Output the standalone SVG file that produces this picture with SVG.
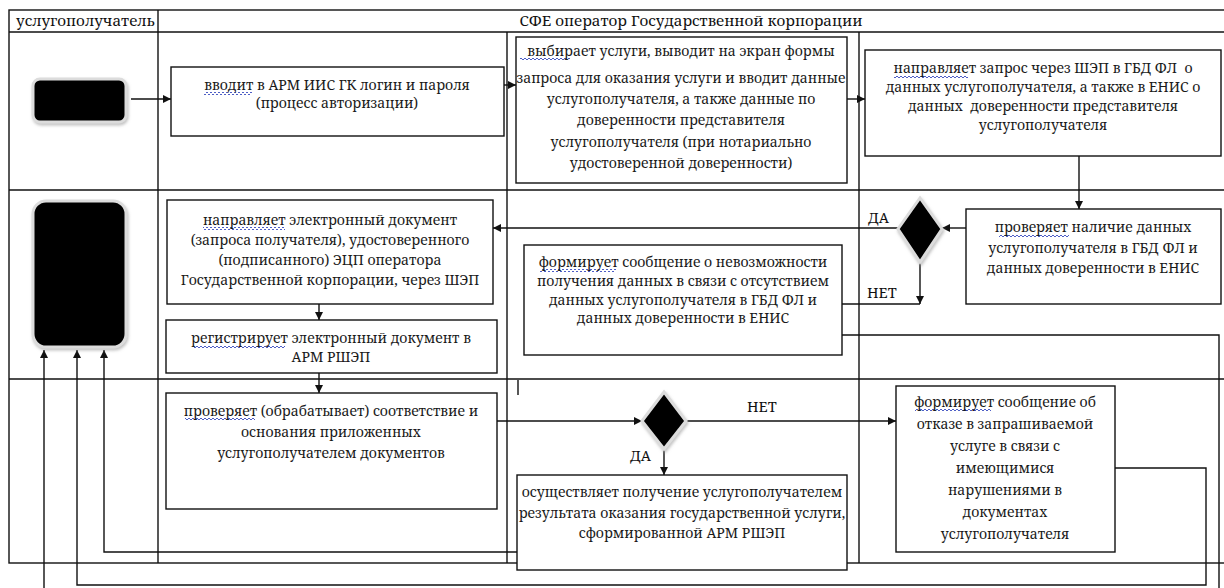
<svg xmlns="http://www.w3.org/2000/svg" width="1224" height="588" viewBox="0 0 1224 588" font-family="'Noto Serif', 'DejaVu Serif', serif">
  <style>
    .grid { fill: none; stroke: #111; stroke-width: 1.4; }
    .box { fill: #fff; stroke: #111; stroke-width: 1.4; }
    .term { fill: #000; stroke: #dcdcdc; stroke-width: 3; filter: url(#soft); }
    .t { font-size: 14px; fill: #1a1a1a; text-anchor: middle; white-space: pre; }
    .h { font-size: 15.2px; fill: #111; }
    .lbl { font-size: 14.5px; fill: #111; }
    .c { fill: none; stroke: #111; stroke-width: 1.4; }
    .ca { fill: none; stroke: #111; stroke-width: 1.4; marker-end: url(#ah); }
    .sq { fill: url(#wave); }
  </style>
  <defs>
    <marker id="ah" viewBox="0 0 10 10" refX="10" refY="5" markerWidth="8" markerHeight="8" markerUnits="userSpaceOnUse" orient="auto">
      <path d="M0,0 L10,5 L0,10 z" fill="#111"/>
    </marker>
    <filter id="soft" x="-20%" y="-20%" width="140%" height="140%">
      <feDropShadow dx="1" dy="2" stdDeviation="1.5" flood-color="#999" flood-opacity="0.6"/>
    </filter>
    <!-- spell-check style wavy underline -->
    <pattern id="wave" width="4" height="3" patternUnits="userSpaceOnUse">
      <path d="M0 2 Q1 0 2 2 T4 2" fill="none" stroke="#3a4cc0" stroke-width="0.9"/>
    </pattern>
  </defs>
  <rect width="1224" height="588" fill="#fff"/>

  <!-- swimlane table -->
  <g id="lanes">
    <rect class="grid" x="9" y="10" width="1225" height="553"/>
    <line class="grid" x1="9" y1="32" x2="1224" y2="32"/>
    <line class="grid" x1="9" y1="190" x2="1224" y2="190"/>
    <line class="grid" x1="9" y1="379" x2="1224" y2="379"/>
    <line class="grid" x1="158" y1="10" x2="158" y2="563"/>
    <line class="grid" x1="507" y1="32" x2="507" y2="563"/>
    <line class="grid" x1="859" y1="32" x2="859" y2="563"/>
    <line class="grid" x1="518" y1="380" x2="518" y2="395"/>
    <text class="h" x="16" y="26">услугополучатель</text>
    <text class="h" x="691" y="26" text-anchor="middle">СФЕ оператор Государственной корпорации</text>
  </g>

  <!-- connectors -->
  <g id="connectors">
    <path class="ca" d="M131 99 H171"/>
    <path class="ca" d="M504 85 H516"/>
    <path class="ca" d="M847 99 H865"/>
    <path class="ca" d="M1079 156 V209"/>
    <path class="ca" d="M966 228 H942"/>
    <path class="ca" d="M898 228 H493"/>
    <path class="ca" d="M920 262 V304"/>
    <path class="c" d="M920 304 H842"/>
    <path class="ca" d="M319 304 V320"/>
    <path class="ca" d="M319 373 V393"/>
    <path class="ca" d="M497 421 H642"/>
    <path class="ca" d="M686 421 H896"/>
    <path class="ca" d="M664 449 V475"/>
    <path class="ca" d="M1115 468 H1206 V585 H77 V350"/>
    <path class="ca" d="M517 552 H104 V350"/>
    <path class="ca" d="M842 335 H1219 V600 H44 V350"/>
    <text class="lbl" x="868" y="223">ДА</text>
    <text class="lbl" x="867" y="298">НЕТ</text>
    <text class="lbl" x="747" y="412">НЕТ</text>
    <text class="lbl" x="630" y="461">ДА</text>
  </g>

  <g id="start">
    <rect class="term" x="33" y="79" width="93" height="43" rx="7"/>
  </g>
  <g id="finish">
    <rect class="term" x="33" y="201" width="93" height="146" rx="13"/>
  </g>

  <g id="login">
    <rect class="box" x="171" y="67" width="333" height="69"/>
    <rect class="sq" x="204" y="92" width="48" height="3"/>
    <text class="t" x="337" y="90">вводит в АРМ ИИС ГК логин и пароля</text>
    <text class="t" x="337" y="108">(процесс авторизации)</text>
  </g>

  <g id="select">
    <rect class="box" x="516" y="37" width="331" height="146"/>
    <rect class="sq" x="520" y="58" width="50" height="3"/>
    <text class="t" x="681" y="56">выбирает услуги, выводит на экран формы</text>
    <text class="t" x="681" y="83">запроса для оказания услуги и вводит данные</text>
    <text class="t" x="681" y="104">услугополучателя, а также данные по</text>
    <text class="t" x="681" y="125">доверенности представителя</text>
    <text class="t" x="681" y="147">услугополучателя (при нотариально</text>
    <text class="t" x="681" y="168">удостоверенной доверенности)</text>
  </g>

  <g id="request">
    <rect class="box" x="865" y="50" width="356" height="106"/>
    <rect class="sq" x="894" y="75" width="74" height="3"/>
    <text class="t" x="1043" y="73">направляет запрос через ШЭП в ГБД ФЛ  о</text>
    <text class="t" x="1043" y="92">данных услугополучателя, а также в ЕНИС о</text>
    <text class="t" x="1043" y="111">данных  доверенности представителя</text>
    <text class="t" x="1043" y="130">услугополучателя</text>
  </g>

  <g id="check-data">
    <rect class="box" x="966" y="209" width="255" height="95"/>
    <rect class="sq" x="999" y="234" width="70" height="3"/>
    <text class="t" x="1093" y="232">проверяет наличие данных</text>
    <text class="t" x="1093" y="253">услугополучателя в ГБД ФЛ и</text>
    <text class="t" x="1093" y="273">данных доверенности в ЕНИС</text>
  </g>

  <g id="decision-data">
    <polygon points="920,198 942,229 920,262 898,229" fill="#000" stroke="#dcdcdc" stroke-width="3" filter="url(#soft)"/>
  </g>

  <g id="send-doc">
    <rect class="box" x="167" y="200" width="326" height="104"/>
    <rect class="sq" x="203" y="227" width="82" height="3"/>
    <text class="t" x="330" y="225">направляет электронный документ</text>
    <text class="t" x="330" y="245">(запроса получателя), удостоверенного</text>
    <text class="t" x="330" y="265">(подписанного) ЭЦП оператора</text>
    <text class="t" x="330" y="285">Государственной корпорации, через ШЭП</text>
  </g>

  <g id="no-data">
    <rect class="box" x="524" y="245" width="318" height="110"/>
    <rect class="sq" x="540" y="269" width="76" height="3"/>
    <text class="t" x="683" y="267">формирует сообщение о невозможности</text>
    <text class="t" x="683" y="286">получения данных в связи с отсутствием</text>
    <text class="t" x="683" y="305">данных услугополучателя в ГБД ФЛ и</text>
    <text class="t" x="683" y="323">данных доверенности в ЕНИС</text>
  </g>

  <g id="register">
    <rect class="box" x="166" y="320" width="331" height="53"/>
    <rect class="sq" x="193" y="345" width="92" height="3"/>
    <text class="t" x="331" y="343">регистрирует электронный документ в</text>
    <text class="t" x="331" y="362">АРМ РШЭП</text>
  </g>

  <g id="verify">
    <rect class="box" x="166" y="393" width="331" height="116"/>
    <rect class="sq" x="185" y="418" width="70" height="3"/>
    <text class="t" x="331" y="416">проверяет (обрабатывает) соответствие и</text>
    <text class="t" x="331" y="437">основания приложенных</text>
    <text class="t" x="331" y="458">услугополучателем документов</text>
  </g>

  <g id="decision-docs">
    <polygon points="664,392 686,421 664,449 642,421" fill="#000" stroke="#dcdcdc" stroke-width="3" filter="url(#soft)"/>
  </g>

  <g id="result">
    <rect class="box" x="517" y="475" width="330" height="95"/>
    <text class="t" x="682" y="497">осуществляет получение услугополучателем</text>
    <text class="t" x="682" y="518">результата оказания государственной услуги,</text>
    <text class="t" x="682" y="538">сформированной АРМ РШЭП</text>
  </g>

  <g id="refusal">
    <rect class="box" x="896" y="386" width="219" height="166"/>
    <rect class="sq" x="915" y="409" width="76" height="3"/>
    <text class="t" x="1005" y="407">формирует сообщение об</text>
    <text class="t" x="1005" y="429">отказе в запрашиваемой</text>
    <text class="t" x="1005" y="451">услуге в связи с</text>
    <text class="t" x="1005" y="473">имеющимися</text>
    <text class="t" x="1005" y="495">нарушениями в</text>
    <text class="t" x="1005" y="517">документах</text>
    <text class="t" x="1005" y="539">услугополучателя</text>
  </g>
</svg>
